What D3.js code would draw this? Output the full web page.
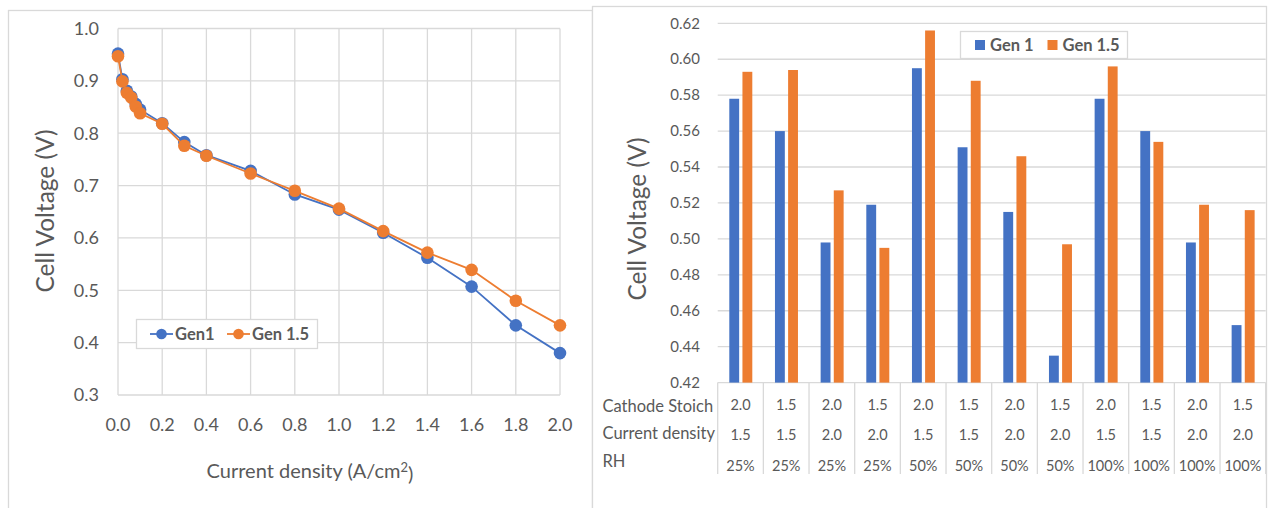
<!DOCTYPE html>
<html>
<head>
<meta charset="utf-8">
<script src="https://cdn.jsdelivr.net/npm/d3@7"></script>
<style>
  html, body { margin: 0; padding: 0; background: #fff; }
  svg { display: block; }
  text { font-family: Lato, "Open Sans", sans-serif; fill: #595959; }
</style>
</head>
<body>
<svg id="chart" width="1269" height="508"></svg>
<script>
// ---- Polarization curve data (current density in A/cm², voltage in V) ----
const currentDensity = [0, 0.02, 0.04, 0.06, 0.08, 0.1, 0.2, 0.3, 0.4, 0.6, 0.8, 1.0, 1.2, 1.4, 1.6, 1.8, 2.0];
const gen1Voltage    = [0.952, 0.903, 0.881, 0.870, 0.856, 0.845, 0.819, 0.783, 0.758, 0.728, 0.683, 0.654, 0.610, 0.562, 0.507, 0.433, 0.380];
const gen15Voltage   = [0.947, 0.899, 0.877, 0.868, 0.851, 0.838, 0.818, 0.776, 0.757, 0.723, 0.690, 0.656, 0.613, 0.572, 0.539, 0.480, 0.433];
const xTicksLeft = [0, 0.2, 0.4, 0.6, 0.8, 1.0, 1.2, 1.4, 1.6, 1.8, 2.0];
const yTicksLeft = [0.3, 0.4, 0.5, 0.6, 0.7, 0.8, 0.9, 1.0];

// ---- Operating condition comparison ----
const cathodeStoich = ["2.0", "1.5", "2.0", "1.5", "2.0", "1.5", "2.0", "1.5", "2.0", "1.5", "2.0", "1.5"];
const currentRow    = ["1.5", "1.5", "2.0", "2.0", "1.5", "1.5", "2.0", "2.0", "1.5", "1.5", "2.0", "2.0"];
const rhRow         = ["25%", "25%", "25%", "25%", "50%", "50%", "50%", "50%", "100%", "100%", "100%", "100%"];
const gen1Bars  = [0.578, 0.560, 0.498, 0.519, 0.595, 0.551, 0.515, 0.435, 0.578, 0.560, 0.498, 0.452];
const gen15Bars = [0.593, 0.594, 0.527, 0.495, 0.616, 0.588, 0.546, 0.497, 0.596, 0.554, 0.519, 0.516];
const yTicksRight = [0.42, 0.44, 0.46, 0.48, 0.50, 0.52, 0.54, 0.56, 0.58, 0.60, 0.62];
const seriesNames = ["Gen 1", "Gen 1.5"];

const BLUE = "#4472C4", ORANGE = "#ED7D31", GRID = "#d9d9d9";
const svg = d3.select("#chart");

// Chart frames
svg.append("rect").attr("x", 8.5).attr("y", 10.5).attr("width", 584).attr("height", 520)
  .attr("fill", "#fff").attr("stroke", GRID).attr("stroke-width", 1.3);
svg.append("rect").attr("x", 592.5).attr("y", 6.5).attr("width", 674).attr("height", 520)
  .attr("fill", "#fff").attr("stroke", GRID).attr("stroke-width", 1.3);

// ================= Left: polarization curves =================
const xL = d3.scaleLinear().domain([0, 2]).range([118, 560]);
const yL = d3.scaleLinear().domain([0.3, 1.0]).range([395, 28.5]);
const left = svg.append("g");

left.append("g").selectAll("line").data(yTicksLeft).join("line")
  .attr("x1", xL(0)).attr("x2", xL(2))
  .attr("y1", d => yL(d)).attr("y2", d => yL(d))
  .attr("stroke", GRID).attr("stroke-width", 1.3);
left.append("g").selectAll("line").data(xTicksLeft).join("line")
  .attr("x1", d => xL(d)).attr("x2", d => xL(d))
  .attr("y1", yL(0.3)).attr("y2", yL(1.0))
  .attr("stroke", GRID).attr("stroke-width", 1.3);

left.append("g").selectAll("text").data(yTicksLeft).join("text")
  .attr("x", 99).attr("y", d => yL(d)).attr("dy", "0.35em")
  .attr("text-anchor", "end").attr("font-size", 18)
  .text(d => d3.format(".1f")(d));
left.append("g").selectAll("text").data(xTicksLeft).join("text")
  .attr("x", d => xL(d)).attr("y", 425).attr("dy", "0.35em")
  .attr("text-anchor", "middle").attr("font-size", 18)
  .text(d => d3.format(".1f")(d));

const xLabel = left.append("text").attr("x", 310).attr("y", 471).attr("dy", "0.35em")
  .attr("text-anchor", "middle").attr("font-size", 20);
xLabel.append("tspan").text("Current density (A/cm");
xLabel.append("tspan").attr("dy", "-0.45em").attr("font-size", 13).text("2");
xLabel.append("tspan").attr("dy", "0.45em").text(")");

left.append("text").attr("transform", "translate(45,211) rotate(-90)")
  .attr("dy", "0.35em").attr("text-anchor", "middle").attr("font-size", 24.5)
  .text("Cell Voltage (V)");

const lineGen = d3.line().x(d => xL(d[0])).y(d => yL(d[1]));
[[gen1Voltage, BLUE], [gen15Voltage, ORANGE]].forEach(([vals, color]) => {
  const pts = currentDensity.map((c, i) => [c, vals[i]]);
  left.append("path").datum(pts).attr("d", lineGen)
    .attr("fill", "none").attr("stroke", color).attr("stroke-width", 1.8);
  left.append("g").selectAll("circle").data(pts).join("circle")
    .attr("cx", d => xL(d[0])).attr("cy", d => yL(d[1])).attr("r", 6.3)
    .attr("fill", color);
});

// Left legend
const legL = left.append("g");
legL.append("rect").attr("x", 136.5).attr("y", 319.5).attr("width", 181).attr("height", 29)
  .attr("fill", "#fff").attr("stroke", GRID).attr("stroke-width", 1.3);
[["Gen1", BLUE, 150], ["Gen 1.5", ORANGE, 227]].forEach(([name, color, x0]) => {
  legL.append("line").attr("x1", x0).attr("x2", x0 + 23).attr("y1", 334).attr("y2", 334)
    .attr("stroke", color).attr("stroke-width", 1.8);
  legL.append("circle").attr("cx", x0 + 11.5).attr("cy", 334).attr("r", 5.3).attr("fill", color);
  legL.append("text").attr("x", x0 + 25).attr("y", 334).attr("dy", "0.35em")
    .attr("font-size", 16.5).attr("font-weight", "bold").text(name);
});

// ================= Right: grouped bars with condition table =================
const idx = d3.range(gen1Bars.length);
const xR = d3.scaleBand().domain(idx).range([717.7, 1265.7]);
const xInner = d3.scaleBand().domain(seriesNames).range([11.6, 34.6]).paddingInner(0.25);
const yR = d3.scaleLinear().domain([0.42, 0.62]).range([382.6, 23.3]);
const right = svg.append("g");

right.append("g").selectAll("line").data(yTicksRight).join("line")
  .attr("x1", xR.range()[0]).attr("x2", xR.range()[1])
  .attr("y1", d => yR(d)).attr("y2", d => yR(d))
  .attr("stroke", GRID).attr("stroke-width", 1.3);

right.append("g").selectAll("text").data(yTicksRight).join("text")
  .attr("x", 700).attr("y", d => yR(d)).attr("dy", "0.35em")
  .attr("text-anchor", "end").attr("font-size", 15)
  .text(d => d3.format(".2f")(d));

right.append("text").attr("transform", "translate(637,219) rotate(-90)")
  .attr("dy", "0.35em").attr("text-anchor", "middle").attr("font-size", 24.5)
  .text("Cell Voltage (V)");

[[gen1Bars, BLUE, "Gen 1"], [gen15Bars, ORANGE, "Gen 1.5"]].forEach(([vals, color, name]) => {
  right.append("g").selectAll("rect").data(idx).join("rect")
    .attr("x", i => xR(i) + xInner(name)).attr("width", xInner.bandwidth())
    .attr("y", i => yR(vals[i])).attr("height", i => yR(0.42) - yR(vals[i]))
    .attr("fill", color);
});

// Table dividers below the axis
const bounds = idx.map(i => xR(i)).concat([xR.range()[1]]);
right.append("g").selectAll("line").data(bounds).join("line")
  .attr("x1", d => d).attr("x2", d => d).attr("y1", yR(0.42)).attr("y2", 474)
  .attr("stroke", GRID).attr("stroke-width", 1.3);

const rows = [["Cathode Stoich", cathodeStoich, 406, 405],
              ["Current density", currentRow, 433.5, 434.5],
              ["RH", rhRow, 461, 466]];
rows.forEach(([label, vals, yl, yv]) => {
  right.append("text").attr("x", 602.5).attr("y", yl).attr("dy", "0.35em")
    .attr("font-size", 16.5).text(label);
  right.append("g").selectAll("text").data(idx).join("text")
    .attr("x", i => xR(i) + xR.bandwidth() / 2).attr("y", yv).attr("dy", "0.35em")
    .attr("text-anchor", "middle").attr("font-size", 14.5).text(i => vals[i]);
});

// Right legend
const legR = right.append("g");
legR.append("rect").attr("x", 960.5).attr("y", 31.5).attr("width", 167).attr("height", 27)
  .attr("fill", "#fff").attr("stroke", GRID).attr("stroke-width", 1.3);
[["Gen 1", BLUE, 975], ["Gen 1.5", ORANGE, 1047.5]].forEach(([name, color, x0]) => {
  legR.append("rect").attr("x", x0).attr("y", 40).attr("width", 10).attr("height", 10).attr("fill", color);
  legR.append("text").attr("x", x0 + 15).attr("y", 45).attr("dy", "0.35em")
    .attr("font-size", 16.5).attr("font-weight", "bold").text(name);
});
</script>
</body>
</html>
